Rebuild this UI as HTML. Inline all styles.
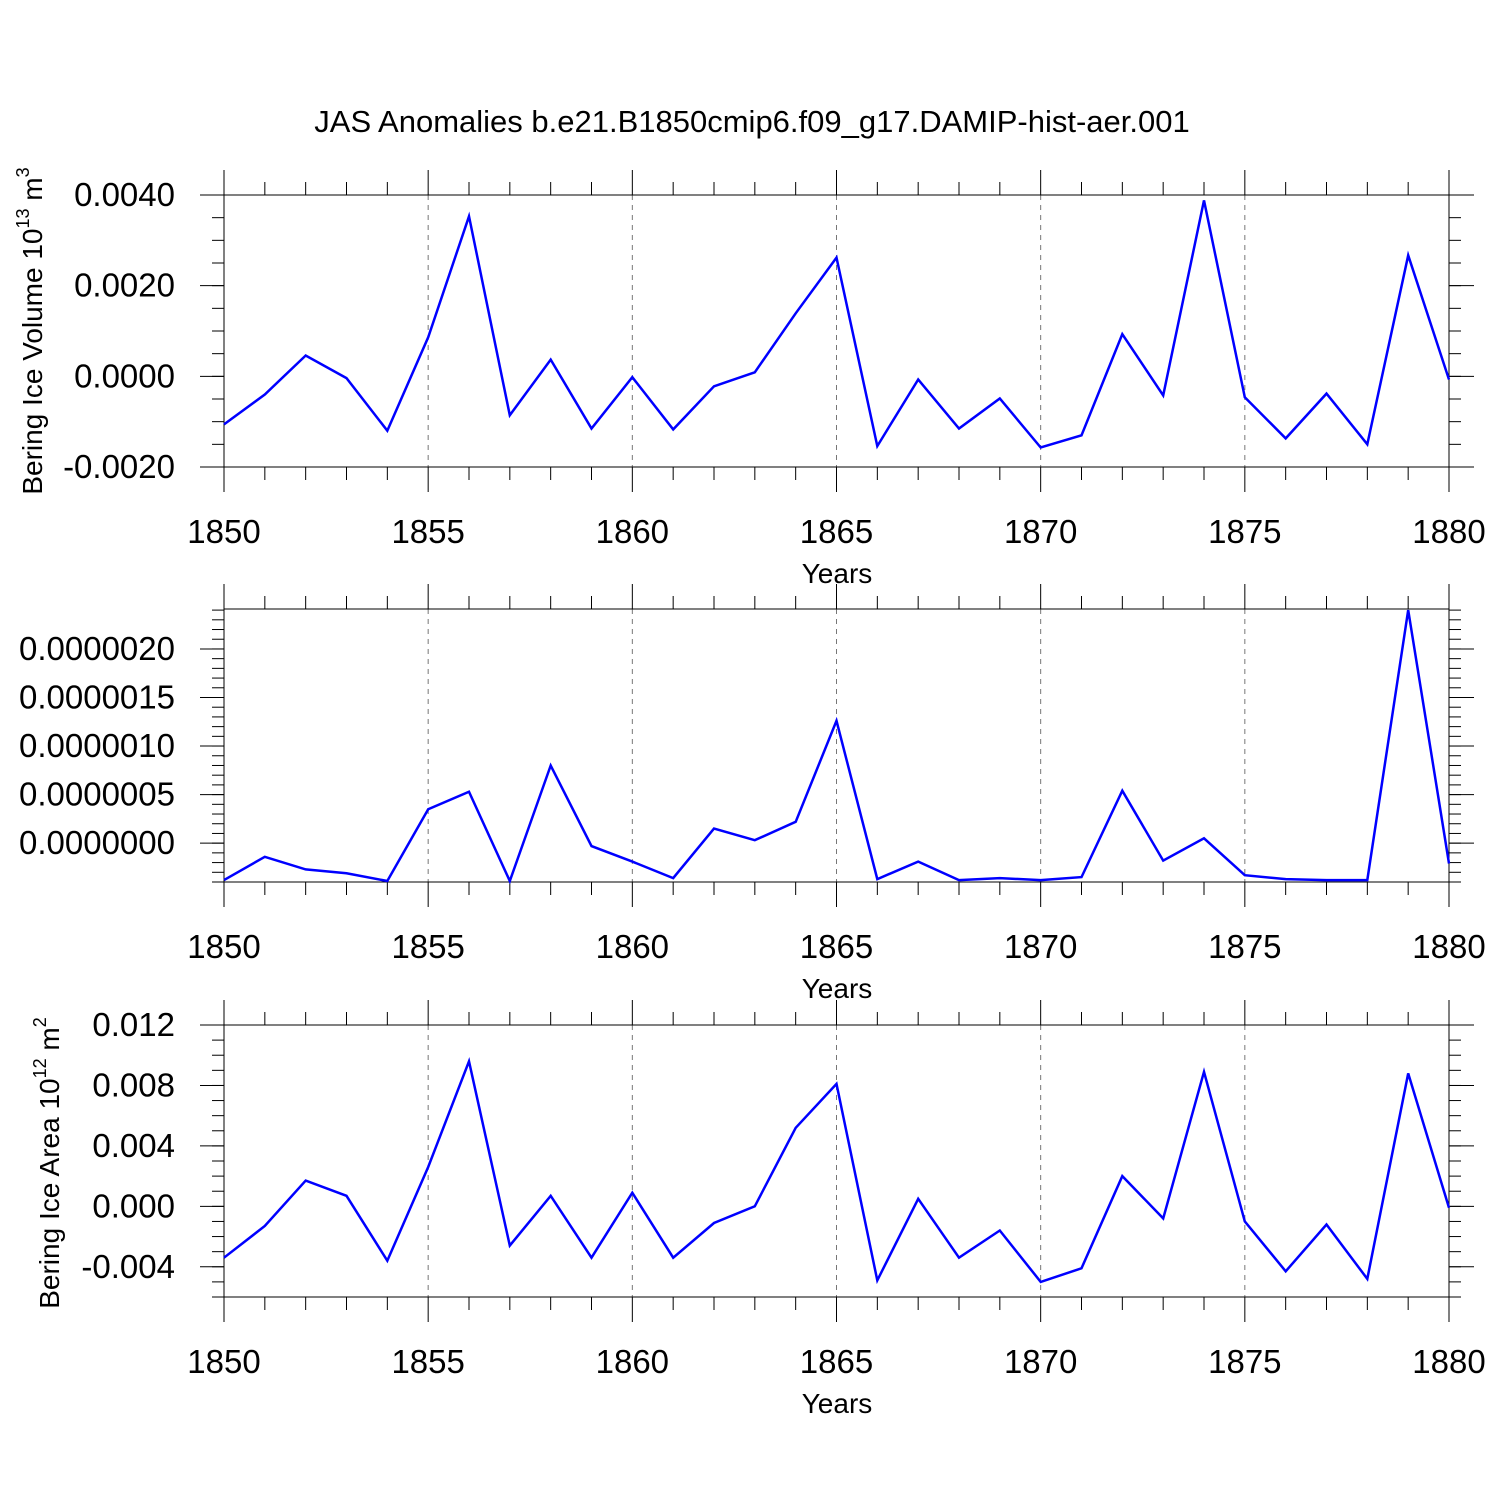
<!DOCTYPE html>
<html><head><meta charset="utf-8"><style>
html,body{margin:0;padding:0;background:#fff;}
svg{display:block;font-family:"Liberation Sans",Arial,sans-serif;}
</style></head><body>
<svg id="c" width="1500" height="1500" viewBox="0 0 1500 1500">
<text x="752" y="132" font-size="31" text-anchor="middle">JAS Anomalies b.e21.B1850cmip6.f09_g17.DAMIP-hist-aer.001</text>
</svg>
<script>
const years = [];
for (let y = 1850; y <= 1880; y++) years.push(y);
const volumeValues = [-0.00106,-0.0004,0.00046,-0.00004,-0.0012,0.00086,0.00353,-0.00086,0.00037,-0.00115,-0.00002,-0.00117,-0.00022,0.00009,0.00139,0.00262,-0.00154,-0.00007,-0.00115,-0.00049,-0.00157,-0.0013,0.00093,-0.00042,0.00388,-0.00046,-0.00137,-0.00038,-0.0015,0.00267,-0.00007];
const middleValues = [-0.38e-6,-0.14e-6,-0.27e-6,-0.31e-6,-0.39e-6,0.35e-6,0.53e-6,-0.39e-6,0.80e-6,-0.03e-6,-0.19e-6,-0.36e-6,0.15e-6,0.03e-6,0.22e-6,1.26e-6,-0.37e-6,-0.19e-6,-0.38e-6,-0.36e-6,-0.38e-6,-0.35e-6,0.54e-6,-0.18e-6,0.05e-6,-0.33e-6,-0.37e-6,-0.38e-6,-0.38e-6,2.40e-6,-0.21e-6];
const areaValues = [-0.0034,-0.0013,0.0017,0.0007,-0.0036,0.0026,0.0096,-0.0026,0.0007,-0.0034,0.0009,-0.0034,-0.0011,0.0,0.0052,0.0081,-0.0049,0.0005,-0.0034,-0.0016,-0.005,-0.0041,0.002,-0.0008,0.0089,-0.001,-0.0043,-0.0012,-0.0048,0.0088,-0.0001];
const xTickLabels = ["1850","1855","1860","1865","1870","1875","1880"];
const volumeTicks = [0.004,0.002,0,-0.002];
const volumeTickLabels = ["0.0040","0.0020","0.0000","-0.0020"];
const middleTicks = [2e-6,1.5e-6,1e-6,0.5e-6,0];
const middleTickLabels = ["0.0000020","0.0000015","0.0000010","0.0000005","0.0000000"];
const areaTicks = [0.012,0.008,0.004,0,-0.004];
const areaTickLabels = ["0.012","0.008","0.004","0.000","-0.004"];

const svg = document.getElementById('c');
const NS = 'http://www.w3.org/2000/svg';
function mk(tag, attrs, parent){const e=document.createElementNS(NS,tag);for(const k in attrs)e.setAttribute(k,attrs[k]);(parent||svg).appendChild(e);return e;}
const X0=224,X1=1449;
const xs = y => X0 + (y-1850)/(1880-1850)*(X1-X0);

function panel(cfg){
  const g = mk('g',{});
  
  
  const {top,bot,vmax,vmin} = cfg;
  const ys = v => top + (vmax-v)/(vmax-vmin)*(bot-top);
  for (let yr=1855; yr<=1875; yr+=5){
    const l = mk('line',{x1:xs(yr),x2:xs(yr),y1:top,y2:bot,stroke:'#777','stroke-width':1,'stroke-dasharray':'5,5'},g);
    
    
  }
  const fr = mk('rect',{x:X0,y:top,width:X1-X0,height:bot-top,fill:'none',stroke:'#000','stroke-width':1},g);
  
  
  years.forEach(yr=>{
    const major = (yr%5===0); const len = major?25:13; const x=xs(yr);
    mk('line',{x1:x,x2:x,y1:top,y2:top-len,stroke:'#000','stroke-width':1},g);
    mk('line',{x1:x,x2:x,y1:bot,y2:bot+len,stroke:'#000','stroke-width':1},g);
  });
  xTickLabels.forEach(t=>{
    const tx = mk('text',{x:xs(+t),y:bot+76,'font-size':33,'text-anchor':'middle'},g);
    tx.textContent=t;
    
    
  });
  const xt = mk('text',{x:837,y:bot+116,'font-size':28,'text-anchor':'middle'},g);
  xt.textContent='Years';
  
  
  const nMin = Math.round((vmax-vmin)/cfg.minor);
  for (let i=0;i<=nMin+1;i++){
    const v = cfg.minorStart - i*cfg.minor; if (v<vmin-1e-12) break; if (v>vmax+1e-12) continue;
    const y=ys(v);
    mk('line',{x1:X0,x2:X0-12,y1:y,y2:y,stroke:'#000','stroke-width':1},g);
    mk('line',{x1:X1,x2:X1+12,y1:y,y2:y,stroke:'#000','stroke-width':1},g);
  }
  cfg.ticks.forEach((v,i)=>{
    const y=ys(v);
    mk('line',{x1:X0,x2:X0-24,y1:y,y2:y,stroke:'#000','stroke-width':1},g);
    mk('line',{x1:X1,x2:X1+25,y1:y,y2:y,stroke:'#000','stroke-width':1},g);
    const t = mk('text',{x:X0-49,y:y+11,'font-size':33,'text-anchor':'end'},g);
    t.textContent = cfg.labels[i];
    
    
  });
  const pts = cfg.values.map((v,i)=>xs(years[i]).toFixed(1)+','+ys(v).toFixed(1)).join(' ');
  const pl = mk('polyline',{points:pts,fill:'none',stroke:'#0000ff','stroke-width':2.5,'stroke-linejoin':'miter'},g);
  
  
  if (cfg.ytitle){
    const t = mk('text',{x:0,y:0,'font-size':28,'text-anchor':'middle',transform:`translate(${cfg.tx},${cfg.ty}) rotate(-90)`},g);
    t.innerHTML = cfg.ytitle;
    
    
  }
}
panel({name:'volume-panel',top:195,bot:467,vmax:0.004,vmin:-0.002,ticks:volumeTicks,labels:volumeTickLabels,minor:0.0005,minorStart:0.004,values:volumeValues,
  ytitle:'Bering Ice Volume 10<tspan dy="-13" font-size="18">13</tspan><tspan dy="13"> m</tspan><tspan dy="-13" font-size="18">3</tspan>',tx:42,ty:331});
panel({name:'middle-panel',top:609,bot:882,vmax:2.4113e-6,vmin:-0.4e-6,ticks:middleTicks,labels:middleTickLabels,minor:1e-7,minorStart:2.4e-6,values:middleValues});
panel({name:'area-panel',top:1025,bot:1297,vmax:0.012,vmin:-0.006,ticks:areaTicks,labels:areaTickLabels,minor:0.001,minorStart:0.012,values:areaValues,
  ytitle:'Bering Ice Area 10<tspan dy="-13" font-size="18">12</tspan><tspan dy="13"> m</tspan><tspan dy="-13" font-size="18">2</tspan>',tx:59,ty:1163});
</script>
</body></html>
